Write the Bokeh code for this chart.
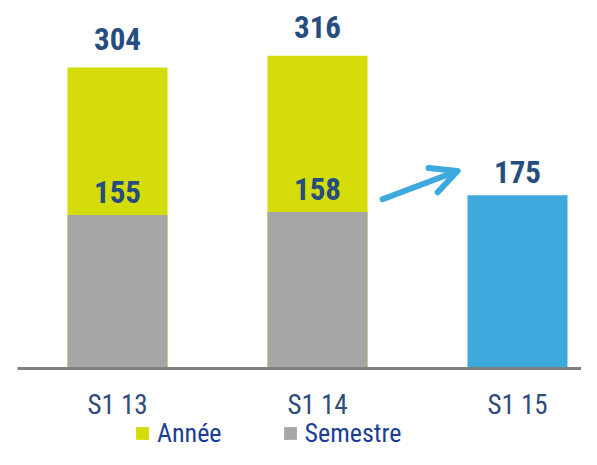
from bokeh.plotting import figure
from bokeh.models import Legend, LegendItem, Arrow, OpenHead, Range1d
from bokeh.core.properties import value
from bokeh.embed import file_html
from bokeh.resources import INLINE

categories = ["S1 13", "S1 14", "S1 15"]
annee = [304, 316]          # yellow (year) totals for S1 13, S1 14
semestre = [155, 158, 175]  # semester values
annee_labels = ["304", "316"]
semestre_labels = ["155", "158", "175"]
arrow_from = (1.325, 171.0)
arrow_to = (1.70, 199.5)

FONT = "'Roboto Condensed', 'DejaVu Sans Condensed', 'Liberation Sans Narrow', 'Arial Narrow', 'Liberation Sans', sans-serif"
x = list(range(len(categories)))

p = figure(width=581, height=449, output_backend="svg", toolbar_location=None,
           x_range=Range1d(-0.585, 2.32), y_range=Range1d(-81.8, 371.7),
           min_border=0, outline_line_color=None)
p.axis.visible = False
p.grid.visible = False
p.background_fill_color = "white"
p.border_fill_color = "white"

r_annee = p.vbar(x=x[:2], top=annee, width=0.5, bottom=0, color="#D4DD09", line_color=None)
r_sem = p.vbar(x=x[:2], top=semestre[:2], width=0.5, bottom=0, color="#A6A6A6", line_color=None)
p.vbar(x=x[2:], top=semestre[2:], width=0.5, bottom=0, color="#3DA9DD", line_color=None)

# baseline axis line
p.segment(x0=[-0.5], y0=[0], x1=[2.32], y1=[0], line_color="#808080", line_width=3)

# value labels
p.text(x=x[:2], y=annee, text=annee_labels, text_align="center", text_baseline="middle",
       y_offset=-29, text_font=value(FONT), text_font_style="bold", text_font_size="31px",
       text_color="#264D80")
p.text(x=x, y=semestre, text=semestre_labels, text_align="center", text_baseline="middle",
       y_offset=-23, text_font=value(FONT), text_font_style="bold", text_font_size="31px",
       text_color="#264D80")

# category labels
p.text(x=x, y=[0] * 3, text=categories, text_align="center", text_baseline="middle",
       y_offset=36, text_font=value(FONT), text_font_size="27px", text_color="#2E4C7C")

# arrow
p.add_layout(Arrow(end=OpenHead(size=26, line_color="#3DA9DD", line_width=6, line_cap="round",
                                line_join="round"),
                   x_start=arrow_from[0], y_start=arrow_from[1],
                   x_end=arrow_to[0], y_end=arrow_to[1],
                   line_color="#3DA9DD", line_width=6, line_cap="round"))

legend = Legend(items=[LegendItem(label="Année", renderers=[r_annee]),
                       LegendItem(label="Semestre", renderers=[r_sem])],
                orientation="horizontal", location=(134, 1),
                label_text_font=FONT, label_text_font_size="26px", label_text_color="#1B3F94",
                glyph_width=16, glyph_height=16, label_standoff=7, spacing=60,
                padding=0, margin=0, background_fill_alpha=0, border_line_color=None)
p.add_layout(legend)

open("out.html", "w").write(file_html(p, INLINE))
